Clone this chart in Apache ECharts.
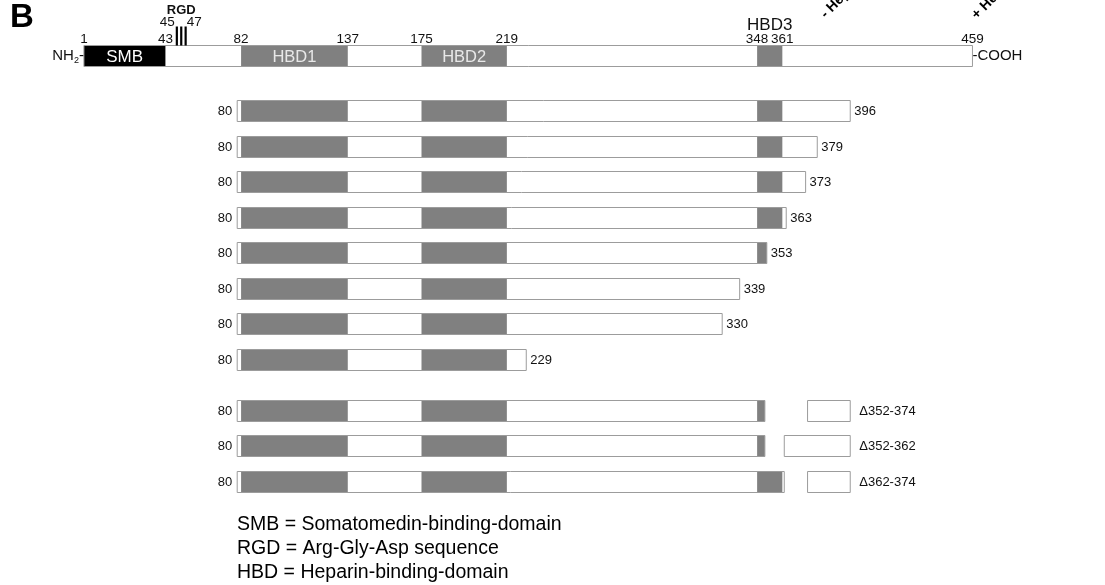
<!DOCTYPE html>
<html><head><meta charset="utf-8">
<script src="https://cdn.jsdelivr.net/npm/echarts@6/dist/echarts.min.js"></script>
<style>html,body{margin:0;padding:0;background:#fff}#c{width:1105px;height:585px}</style>
</head><body><div id="c"></div>
<script>
// ---- data ----
const proteinStart = 1, proteinEnd = 459;
const domainNames = ['SMB', 'HBD1', 'HBD2', 'HBD3'];
const domainStart = [1, 82, 175, 348];
const domainEnd = [43, 137, 219, 361];
const boundaryTicks = [1, 43, 82, 137, 175, 219, 348, 361, 459];
const rgdSites = [45, 46, 47];
const rgdTickLabels = ['45', '47'];
const constructStart = 80;
const truncationEnds = [396, 379, 373, 363, 353, 339, 330, 229];
const deletionNames = ['Δ352-374', 'Δ352-362', 'Δ362-374'];
const deletionKeepTo = [352, 352, 362];
const deletionResumeAt = [374, 362, 374];
const deletionEnd = 396;
const legendLines = ['SMB = Somatomedin-binding-domain', 'RGD = Arg-Gly-Asp sequence', 'HBD = Heparin-binding-domain'];
const columnHeads = ['- Heparin', '+ Heparin'];

// ---- layout ----
const FONT = "'Liberation Sans', Arial, sans-serif";
const GRAY = '#808080', EDGE = '#9c9c9c';
const BAR_H = 21;
const topRow = -1.55;
const delRow = i => 8.44 + i * 1.01;

const segs = [];
segs.push({ start: proteinStart, end: proteinEnd, row: topRow, full: true });
truncationEnds.forEach((e, i) => segs.push({ start: constructStart, end: e, row: i, left: String(constructStart), right: String(e) }));
deletionNames.forEach((n, i) => {
  segs.push({ start: constructStart, end: deletionKeepTo[i], row: delRow(i), left: String(constructStart) });
  segs.push({ start: deletionResumeAt[i], end: deletionEnd, row: delRow(i), right: n, rightGap: 9 });
});

function renderItem(params, api) {
  const s = segs[params.dataIndex];
  const p0 = api.coord([s.start, s.row]);
  const p1 = api.coord([s.end, s.row]);
  const y = Math.round(p0[1] - BAR_H / 2) + 0.5;
  const ch = [];
  ch.push({ type: 'rect', shape: { x: p0[0], y: y, width: p1[0] - p0[0], height: BAR_H }, style: { fill: '#fff' } });
  for (let d = 0; d < domainNames.length; d++) {
    const a = Math.max(s.start, domainStart[d]);
    const b = Math.min(s.end, domainEnd[d]);
    if (b <= a) continue;
    const x0 = api.coord([a, s.row])[0], x1 = api.coord([b, s.row])[0];
    ch.push({ type: 'rect', shape: { x: x0, y: y, width: x1 - x0, height: BAR_H },
      style: { fill: domainNames[d] === 'SMB' ? '#000' : GRAY } });
    if (s.full && domainNames[d] !== 'HBD3') {
      ch.push({ type: 'text', style: { text: domainNames[d], x: (x0 + x1) / 2, y: y + BAR_H / 2 + 1,
        align: 'center', verticalAlign: 'middle', font: (domainNames[d] === 'SMB' ? '17px ' : '16.5px ') + FONT,
        fill: domainNames[d] === 'SMB' ? '#fff' : '#e8e8e8' } });
    }
    if (s.full && domainNames[d] === 'HBD3') {
      ch.push({ type: 'text', style: { text: domainNames[d], x: (x0 + x1) / 2, y: y - 20,
        align: 'center', verticalAlign: 'middle', font: '17px ' + FONT, fill: '#111' } });
    }
  }
  ch.push({ type: 'rect', shape: { x: p0[0], y: y, width: p1[0] - p0[0], height: BAR_H },
    style: { fill: 'none', stroke: EDGE, lineWidth: 1 } });
  if (s.left) ch.push({ type: 'text', style: { text: s.left, x: p0[0] - 5, y: y + BAR_H / 2,
    align: 'right', verticalAlign: 'middle', font: '13px ' + FONT, fill: '#111' } });
  if (s.right) ch.push({ type: 'text', style: { text: s.right, x: p1[0] + (s.rightGap || 4), y: y + BAR_H / 2,
    align: 'left', verticalAlign: 'middle', font: '13px ' + FONT, fill: '#111' } });
  if (s.full) {
    ch.push({ type: 'text', style: { text: '{a|NH}{b|2}{a|-}', x: p0[0], y: y + BAR_H / 2,
      align: 'right', verticalAlign: 'middle',
      rich: { a: { font: '15px ' + FONT, fill: '#111' }, b: { font: '9px ' + FONT, fill: '#111', padding: [9, 0, 0, 0] } } } });
    ch.push({ type: 'text', style: { text: '-COOH', x: p1[0], y: y + BAR_H / 2,
      align: 'left', verticalAlign: 'middle', font: '15px ' + FONT, fill: '#111' } });
    boundaryTicks.forEach(t => {
      const x = api.coord([t, s.row])[0];
      ch.push({ type: 'text', style: { text: String(t), x: x, y: y + 1,
        align: 'center', verticalAlign: 'bottom', font: '13.5px ' + FONT, fill: '#111' } });
    });
    // RGD marker (schematic spread around the motif)
    const cx = api.coord([rgdSites[1], s.row])[0] + 10;
    rgdSites.forEach((r, i) => {
      const lx = cx + (i - 1) * 4.4;
      ch.push({ type: 'line', shape: { x1: lx, y1: y - 19, x2: lx, y2: y }, style: { stroke: '#000', lineWidth: 2.2 } });
    });
    ch.push({ type: 'text', style: { text: rgdTickLabels[0], x: cx - 14, y: y - 16,
      align: 'center', verticalAlign: 'bottom', font: '13.5px ' + FONT, fill: '#111' } });
    ch.push({ type: 'text', style: { text: rgdTickLabels[1], x: cx + 13, y: y - 16,
      align: 'center', verticalAlign: 'bottom', font: '13.5px ' + FONT, fill: '#111' } });
    ch.push({ type: 'text', style: { text: 'RGD', x: cx, y: y - 29,
      align: 'center', verticalAlign: 'bottom', font: 'bold 13px ' + FONT, fill: '#111' } });
  }
  return { type: 'group', children: ch };
}

const chart = echarts.init(document.getElementById('c'), null, { renderer: 'canvas' });
chart.setOption({
  animation: false,
  backgroundColor: '#fff',
  grid: { left: 82, right: 53, top: 4, bottom: 13 },
  xAxis: { type: 'value', min: 0, max: 500, show: false },
  yAxis: { type: 'value', min: -3, max: 13, inverse: true, show: false },
  series: [{
    type: 'custom', clip: false, renderItem: renderItem,
    data: segs.map(s => [s.start, s.end, s.row])
  }],
  graphic: [
    { type: 'text', x: 10, y: 18, style: { text: 'B', font: 'bold 33px ' + FONT, fill: '#000', verticalAlign: 'middle' } },
    { type: 'text', x: 828, y: 21, rotation: Math.PI / 4, style: { text: columnHeads[0], font: 'bold 14px ' + FONT, fill: '#000', align: 'left', verticalAlign: 'bottom' } },
    { type: 'text', x: 979, y: 22, rotation: Math.PI / 4, style: { text: columnHeads[1], font: 'bold 14px ' + FONT, fill: '#000', align: 'left', verticalAlign: 'bottom' } },
    { type: 'text', x: 237, y: 525, style: { text: legendLines[0], font: '19.5px ' + FONT, fill: '#000', verticalAlign: 'middle' } },
    { type: 'text', x: 237, y: 549, style: { text: legendLines[1], font: '19.5px ' + FONT, fill: '#000', verticalAlign: 'middle' } },
    { type: 'text', x: 237, y: 573, style: { text: legendLines[2], font: '19.5px ' + FONT, fill: '#000', verticalAlign: 'middle' } }
  ]
});
</script></body></html>
